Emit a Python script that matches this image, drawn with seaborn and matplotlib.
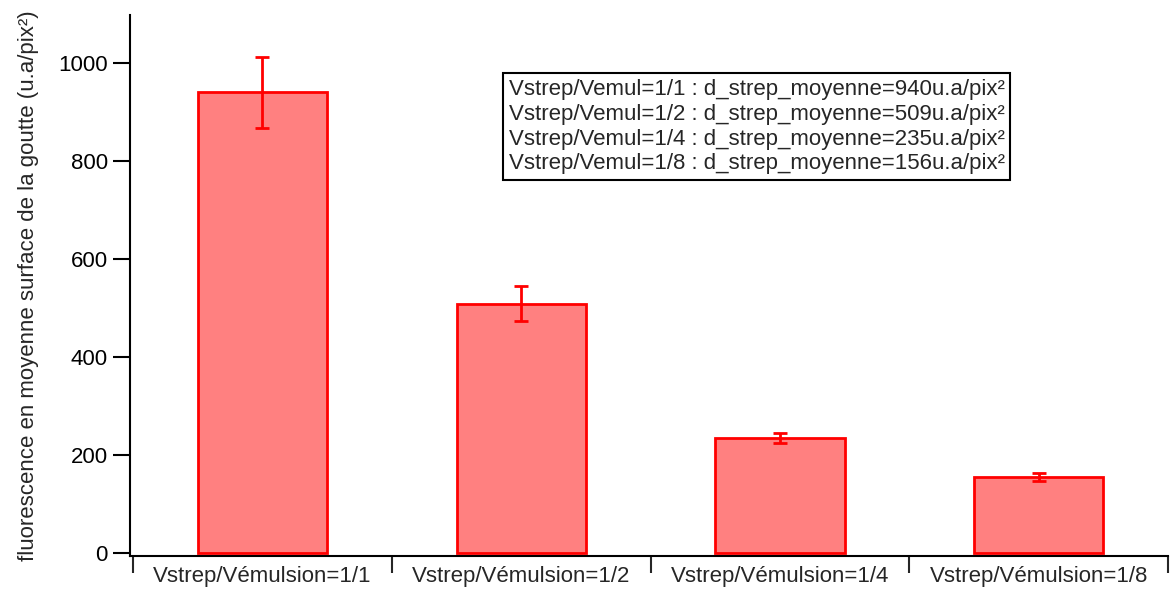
import matplotlib
matplotlib.use("Agg")
import matplotlib.pyplot as plt
import seaborn as sns
import pandas as pd

categories = ["Vstrep/Vémulsion=1/1", "Vstrep/Vémulsion=1/2",
              "Vstrep/Vémulsion=1/4", "Vstrep/Vémulsion=1/8"]
means = [940, 509, 235, 156]
errors = [73, 36, 10, 8]
y_ticks = [0, 200, 400, 600, 800, 1000]
note_lines = [
    "Vstrep/Vemul=1/1 : d_strep_moyenne=940u.a/pix²",
    "Vstrep/Vemul=1/2 : d_strep_moyenne=509u.a/pix²",
    "Vstrep/Vemul=1/4 : d_strep_moyenne=235u.a/pix²",
    "Vstrep/Vemul=1/8 : d_strep_moyenne=156u.a/pix²",
]

sns.set_style("ticks")
plt.rcParams["font.family"] = ["Liberation Sans", "DejaVu Sans"]

df = pd.DataFrame({"cat": categories, "val": means})

fig = plt.figure(figsize=(11.7, 5.92), dpi=100)
ax = fig.add_axes([130 / 1170, 36 / 592, 1038 / 1170, 541 / 592])

sns.barplot(data=df, x="cat", y="val", ax=ax, width=0.5,
            color="#ff8080", edgecolor="red", linewidth=2, errorbar=None,
            saturation=1)
ax.errorbar(range(len(categories)), means, yerr=errors, fmt="none",
            ecolor="red", elinewidth=2, capsize=4.7, capthick=2)

ax.set_xlim(-0.512, 3.5)
ax.set_ylim(-6, 1098)
ax.set_yticks(y_ticks)
ax.tick_params(axis="y", direction="out", length=12, width=1.5,
               labelsize=16, colors="black", pad=4)

# category boundaries as ticks, labels centred between them
ax.set_xticks([-0.5, 0.5, 1.5, 2.5, 3.5])
ax.set_xticklabels([])
ax.set_xticks(range(len(categories)), minor=True)
ax.set_xticklabels(categories, minor=True)
ax.tick_params(axis="x", which="major", direction="out", length=12, width=1.5)
ax.tick_params(axis="x", which="minor", length=0, labelsize=16, pad=7)

for s in ["top", "right"]:
    ax.spines[s].set_visible(False)
for s in ["left", "bottom"]:
    ax.spines[s].set_linewidth(1.5)
    ax.spines[s].set_color("black")

ax.set_xlabel("")
ax.set_ylabel("fluorescence en moyenne surface de la goutte (u.a/pix²)",
              fontsize=16, labelpad=14)

ax.text(0.365, 0.882, "\n".join(note_lines), transform=ax.transAxes,
        fontsize=16, va="top", ha="left", linespacing=1.24,
        bbox=dict(boxstyle="square,pad=0.25", facecolor="white",
                  edgecolor="black", linewidth=1.5))

fig.savefig("out.png", dpi=100)
